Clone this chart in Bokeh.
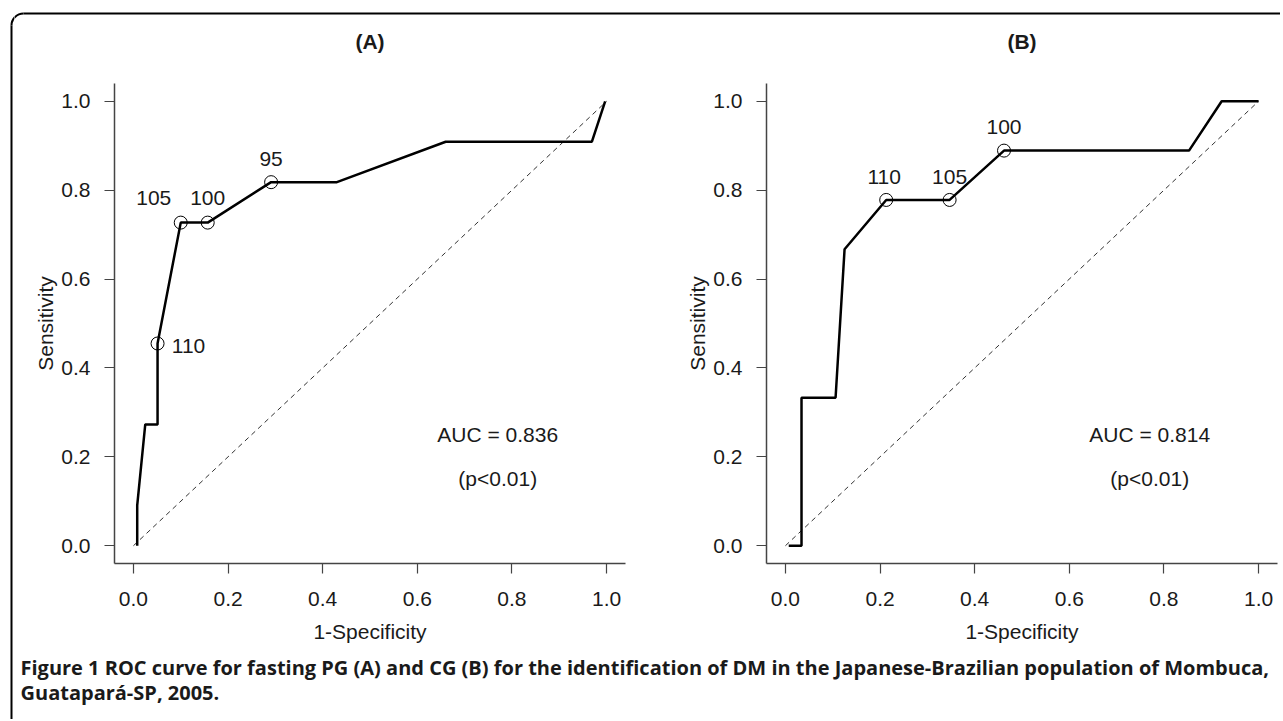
import math
from bokeh.plotting import figure
from bokeh.layouts import column, row
from bokeh.models import Range1d, FixedTicker
from bokeh.core.properties import value
from bokeh.embed import file_html
from bokeh.resources import INLINE

# ---------------- data ----------------
X_TICKS = [0.0, 0.2, 0.4, 0.6, 0.8, 1.0]
Y_TICKS = [0.0, 0.2, 0.4, 0.6, 0.8, 1.0]
TICK_LABELS = ["0.0", "0.2", "0.4", "0.6", "0.8", "1.0"]
DIAG = [0.0, 1.0]

# Panel A (fasting PG)
A_FPR = [0.008, 0.008, 0.025, 0.051, 0.051, 0.100, 0.157, 0.291, 0.430, 0.660, 0.969, 0.997]
A_TPR = [0.000, 0.091, 0.273, 0.273, 0.455, 0.727, 0.727, 0.818, 0.818, 0.909, 0.909, 1.000]
A_CUT_FPR = [0.051, 0.100, 0.157, 0.291]
A_CUT_TPR = [0.455, 0.727, 0.727, 0.818]
A_CUT_LABELS = ["110", "105", "100", "95"]
A_TEXT = ["AUC = 0.836", "(p<0.01)"]

# Panel B (CG)
B_FPR = [0.007, 0.034, 0.034, 0.106, 0.125, 0.213, 0.347, 0.462, 0.853, 0.922, 1.000]
B_TPR = [0.000, 0.000, 0.333, 0.333, 0.667, 0.778, 0.778, 0.889, 0.889, 1.000, 1.000]
B_CUT_FPR = [0.213, 0.347, 0.462]
B_CUT_TPR = [0.778, 0.778, 0.889]
B_CUT_LABELS = ["110", "105", "100"]
B_TEXT = ["AUC = 0.814", "(p<0.01)"]

TITLES = ["(A)", "(B)"]
CAPTION_1 = ("Figure 1 ROC curve for fasting PG (A) and CG (B) for the identification "
             "of DM in the Japanese-Brazilian population of Mombuca,")
CAPTION_2 = "Guatapará-SP, 2005."

# ---------------- styles / layout ----------------
FONT = "Liberation Sans"
FS = "21px"
TXT = "#1a1a1a"
A_LABEL_OFFSETS = [(31, 2), (-27, -25), (0, -25), (0, -23)]
B_LABEL_OFFSETS = [(-2, -23), (0, -23), (0, -24)]
ANNOT_X = 0.77
ANNOT_Y = [0.25, 0.152]

TOTAL_W, TOTAL_H = 1280, 719
STRIP_W = 14          # left strip holding the frame's left edge
TOP_H = 60            # top strip holding the titles and the frame's top edge
PLOT_H = 595
CAP_H = TOTAL_H - TOP_H - PLOT_H
A_W, B_W = 634, 632
A_BORDERS = (100, 23)   # left, right
B_BORDERS = (118, 3)
BORDER_TOP, BORDER_BOTTOM = 23, 92
FRAME_X, FRAME_Y, RADIUS = 11, 13, 12
TITLE_Y = 41


def strip(width, height, x0, x1, y0, y1):
    s = figure(width=width, height=height, x_range=Range1d(x0, x1),
               y_range=Range1d(y0, y1), output_backend="svg",
               toolbar_location=None, min_border=0)
    s.axis.visible = False
    s.grid.visible = False
    s.outline_line_color = None
    s.background_fill_color = "white"
    s.border_fill_color = "white"
    return s


def draw_corner(s):
    s.arc(x=[FRAME_X + RADIUS], y=[-(FRAME_Y + RADIUS)], radius=RADIUS,
          radius_units="screen", start_angle=math.pi / 2, end_angle=math.pi,
          line_color="black", line_width=2)


def panel(fpr, tpr, cfpr, ctpr, clabels, offsets, texts, width, borders):
    p = figure(width=width, height=PLOT_H, x_range=Range1d(-0.04, 1.04),
               y_range=Range1d(-0.04, 1.04), output_backend="svg",
               toolbar_location=None, min_border_left=borders[0],
               min_border_right=borders[1], min_border_top=BORDER_TOP,
               min_border_bottom=BORDER_BOTTOM)
    p.outline_line_color = None
    p.grid.visible = False
    p.background_fill_color = "white"
    p.border_fill_color = "white"

    for ax, lab in ((p.xaxis[0], "1-Specificity"), (p.yaxis[0], "Sensitivity")):
        ax.axis_label = lab
        ax.axis_label_text_font = FONT
        ax.axis_label_text_font_size = FS
        ax.axis_label_text_font_style = "normal"
        ax.axis_label_text_color = TXT
        ax.major_label_text_font = FONT
        ax.major_label_text_font_size = FS
        ax.major_label_text_color = TXT
        ax.major_tick_in = 0
        ax.major_tick_out = 10
        ax.minor_tick_in = 0
        ax.minor_tick_out = 0
        ax.axis_line_color = "#444444"
        ax.axis_line_width = 1.5
        ax.major_tick_line_color = "#444444"
        ax.major_tick_line_width = 1.2
    p.xaxis[0].ticker = FixedTicker(ticks=X_TICKS)
    p.yaxis[0].ticker = FixedTicker(ticks=Y_TICKS)
    p.xaxis[0].major_label_overrides = dict(zip(X_TICKS, TICK_LABELS))
    p.yaxis[0].major_label_overrides = dict(zip(Y_TICKS, TICK_LABELS))
    p.xaxis[0].major_label_standoff = 18
    p.xaxis[0].axis_label_standoff = 11
    p.yaxis[0].major_label_standoff = 14
    p.yaxis[0].axis_label_standoff = 1

    p.line(DIAG, DIAG, line_color="#333333", line_width=1, line_dash="5 4")
    p.line(fpr, tpr, line_color="black", line_width=2.5)
    p.scatter(cfpr, ctpr, marker="circle", size=13, fill_color=None,
              line_color="black", line_width=1)
    for xx, yy, lab, (dx, dy) in zip(cfpr, ctpr, clabels, offsets):
        p.text([xx], [yy], text=[lab], x_offset=dx, y_offset=dy,
               text_align="center", text_baseline="middle",
               text_font=value(FONT), text_font_size=FS, text_color=TXT)
    p.text([ANNOT_X, ANNOT_X], ANNOT_Y, text=texts, text_align="center",
           text_baseline="middle", text_font=value(FONT), text_font_size=FS,
           text_color=TXT)
    return p


pa = panel(A_FPR, A_TPR, A_CUT_FPR, A_CUT_TPR, A_CUT_LABELS,
           A_LABEL_OFFSETS, A_TEXT, A_W, A_BORDERS)
pb = panel(B_FPR, B_TPR, B_CUT_FPR, B_CUT_TPR, B_CUT_LABELS,
           B_LABEL_OFFSETS, B_TEXT, B_W, B_BORDERS)

# left strip: frame's left edge + rounded corner
left = strip(STRIP_W, TOTAL_H, 0, STRIP_W, -TOTAL_H, 0)
left.line([FRAME_X, FRAME_X], [-(FRAME_Y + RADIUS), -TOTAL_H - 5],
          line_color="black", line_width=2)
draw_corner(left)

# top strip: frame's top edge + panel titles
top = strip(TOTAL_W - STRIP_W, TOP_H, STRIP_W, TOTAL_W, -TOP_H, 0)
top.line([FRAME_X + RADIUS, TOTAL_W + 5], [-FRAME_Y, -FRAME_Y],
         line_color="black", line_width=2)
draw_corner(top)
a_center = STRIP_W + A_BORDERS[0] + (A_W - sum(A_BORDERS)) / 2
b_center = STRIP_W + A_W + B_BORDERS[0] + (B_W - sum(B_BORDERS)) / 2
top.text([a_center, b_center], [-TITLE_Y, -TITLE_Y], text=TITLES,
         text_align="center", text_baseline="middle", text_font=value(FONT),
         text_font_size=FS, text_font_style="bold", text_color=TXT)

# caption strip
cap_top = TOP_H + PLOT_H
cap = strip(TOTAL_W - STRIP_W, CAP_H, STRIP_W, TOTAL_W, -TOTAL_H, -cap_top)
cap.text([20, 20], [-667, -692], text=[CAPTION_1, CAPTION_2], text_align="left",
         text_baseline="middle", text_font=value("Open Sans"),
         text_font_size="20px", text_font_style="bold", text_color=TXT)

layout = row(left, column(top, row(pa, pb), cap))
open("out.html", "w").write(file_html(layout, INLINE))
